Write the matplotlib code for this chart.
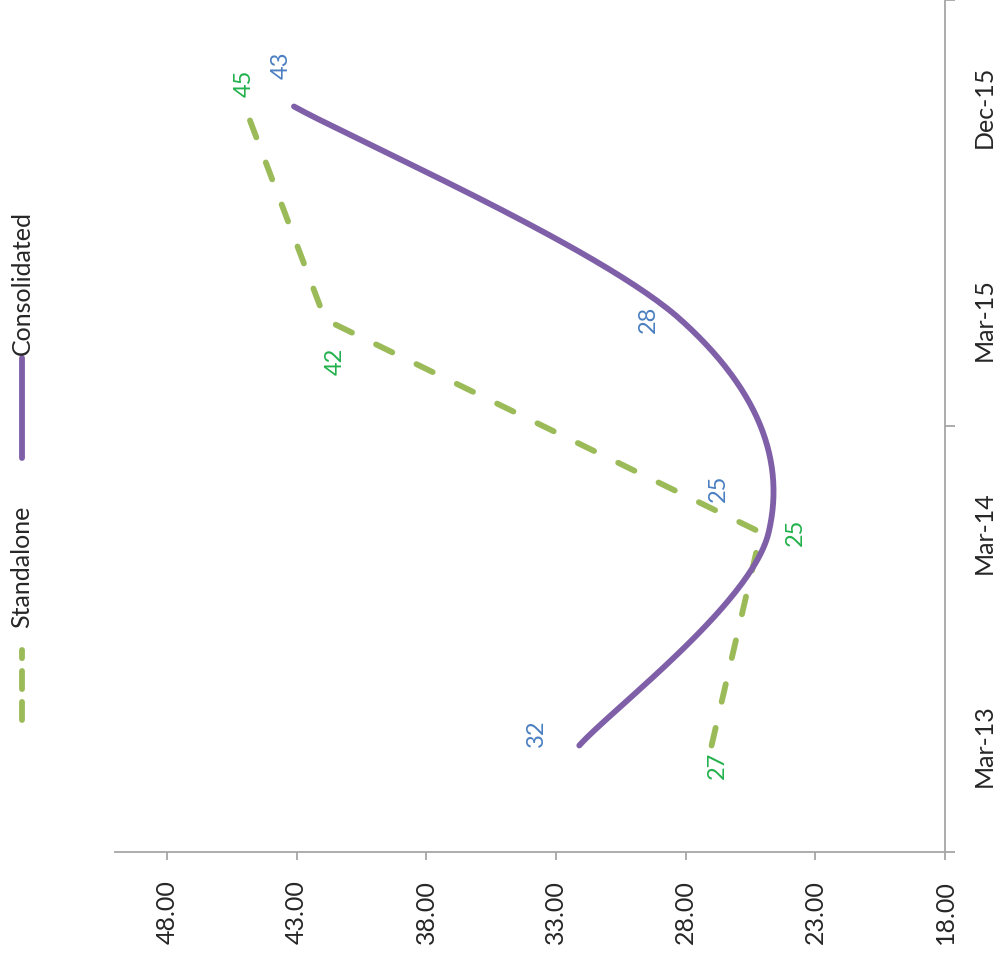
import numpy as np
import matplotlib.pyplot as plt
from matplotlib.lines import Line2D

plt.rcParams['font.family'] = ['Lato', 'DejaVu Sans']

# data
periods = ['Mar-13', 'Mar-14', 'Mar-15', 'Dec-15']
standalone = [27.0, 25.1, 41.9, 45.0]
consolidated = [32.1, 24.8, 28.2, 43.1]
value_ticks = [48, 43, 38, 33, 28, 23, 18]

purple = '#7f60a8'
green = '#9bbb59'
blue_lbl = '#4a7fc1'
green_lbl = '#22b14c'
axis_col = '#a6a6a6'
txt_col = '#262626'

fig = plt.figure(figsize=(9.95, 9.59), dpi=100)
ax = fig.add_axes([115 / 995, 1 - 852 / 959, (945 - 115) / 995, 852 / 959])

# the chart is turned on its side: values run along x (reversed), periods along y
ax.set_xlim(50, 18)
ax.set_ylim(-0.5, len(periods) - 0.5)

pos = np.arange(len(periods))


def smooth(xs, ys, n=60):
    # Excel-style smoothed line: cubic bezier with catmull-rom handles, built in pixel space
    pts = ax.transData.transform(np.column_stack([xs, ys]))
    p = np.vstack([pts[0], pts, pts[-1]])
    out = []
    t = np.linspace(0, 1, n)[:, None]
    for i in range(1, len(p) - 2):
        p0, p1, p2, p3 = p[i - 1], p[i], p[i + 1], p[i + 2]
        c1 = p1 + (p2 - p0) / 6
        c2 = p2 - (p3 - p1) / 6
        seg = ((1 - t) ** 3) * p1 + 3 * ((1 - t) ** 2) * t * c1 + 3 * (1 - t) * t ** 2 * c2 + t ** 3 * p2
        out.append(seg)
    curve = np.vstack(out)
    return ax.transData.inverted().transform(curve)


ax.plot(standalone, pos, color=green, lw=4.2, linestyle=(0, (3.1, 4.6)),
        dash_capstyle='round', solid_capstyle='round', zorder=3)
cv = smooth(consolidated, pos)
ax.plot(cv[:, 0], cv[:, 1], color=purple, lw=4.2, solid_capstyle='round', zorder=4)

# data labels (offsets in points)
cons_off = [(-31, 9), (-36, 32), (-23, 0), (-9, 30)]
stand_off = [(4, -14), (25, 0), (7, -30), (0, 17)]
for v, y, off in zip(consolidated, pos, cons_off):
    ax.annotate(f'{v:.0f}', (v, y), xytext=off, textcoords='offset points',
                rotation=90, ha='center', va='center', color=blue_lbl, fontsize=17)
for v, y, off in zip(standalone, pos, stand_off):
    ax.annotate(f'{v:.0f}', (v, y), xytext=off, textcoords='offset points',
                rotation=90, ha='center', va='center', color=green_lbl, fontsize=17)

# axes styling
for s in ['left', 'top']:
    ax.spines[s].set_visible(False)
for s in ['bottom', 'right']:
    ax.spines[s].set_color(axis_col)
    ax.spines[s].set_linewidth(1.3)

ax.set_xticks(value_ticks)
ax.set_xticklabels([f'{v:.2f}' for v in value_ticks], rotation=90, fontsize=18, color=txt_col)
ax.tick_params(axis='x', direction='out', length=6, width=1.3, color=axis_col, pad=14)

ax.yaxis.tick_right()
ax.set_yticks([-0.5, 1.5, 3.5])
ax.set_yticklabels([])
ax.set_yticks(pos, minor=True)
ax.set_yticklabels(periods, minor=True, rotation=90, va='center', fontsize=18, color=txt_col)
ax.tick_params(axis='y', which='major', direction='out', length=7, width=1.3, color=axis_col)
ax.tick_params(axis='y', which='minor', length=0, pad=20)

# legend drawn by hand, turned like the chart
fig.add_artist(Line2D([22 / 995, 22 / 995], [1 - 720 / 959, 1 - 650 / 959], color=green, lw=4.2,
                      linestyle=(0, (3.1, 2.2)), dash_capstyle='round'))
fig.text(22 / 995, 1 - 567 / 959, 'Standalone', rotation=90, ha='center', va='center',
         fontsize=18, color=txt_col)
fig.add_artist(Line2D([22 / 995, 22 / 995], [1 - 458 / 959, 1 - 358 / 959], color=purple, lw=4.2,
                      solid_capstyle='round'))
fig.text(22 / 995, 1 - 283 / 959, 'Consolidated', rotation=90, ha='center', va='center',
         fontsize=18, color=txt_col)

fig.savefig('out.png', dpi=100)
